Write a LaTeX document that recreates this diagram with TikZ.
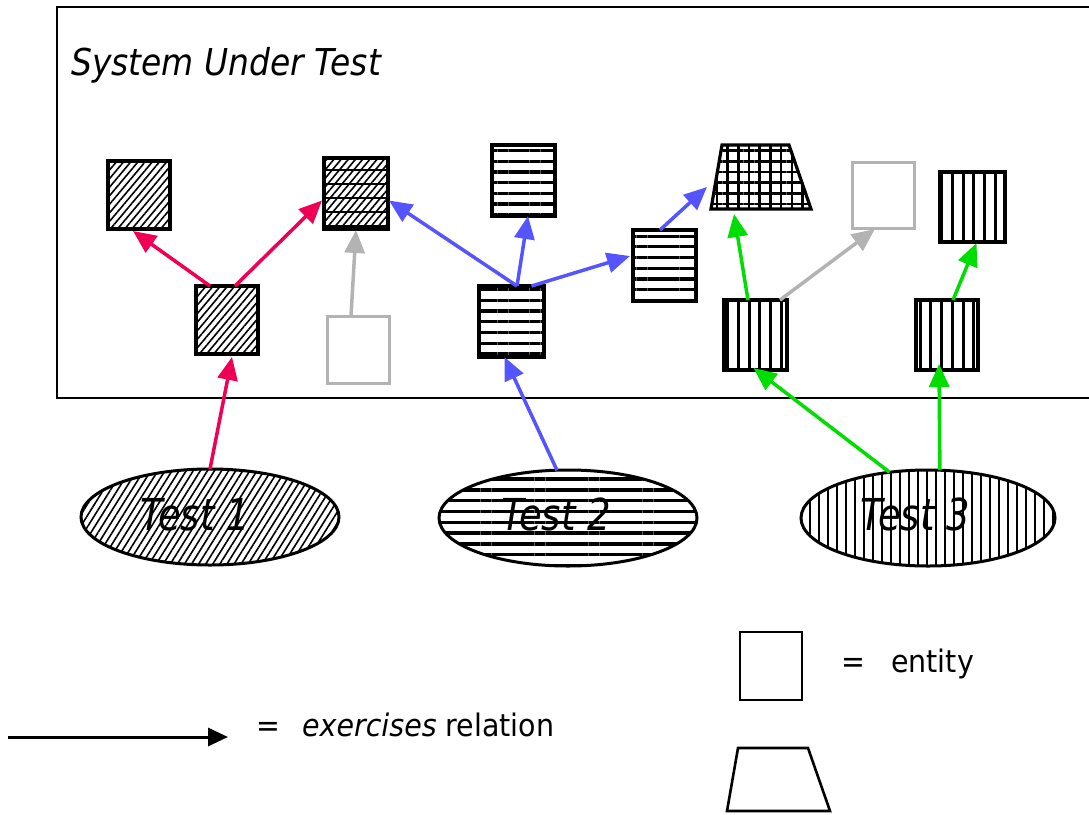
\documentclass[tikz,border=0pt]{standalone}
\usepackage{fontspec}
\setmainfont{DejaVu Sans}
\newfontfamily\stitle[FakeStretch=0.89]{DejaVu Sans}
\newfontfamily\stest[FakeStretch=0.84]{DejaVu Sans}
\newfontfamily\sleg[FakeStretch=0.92]{DejaVu Sans}
\usetikzlibrary{arrows.meta,patterns.meta,shapes.geometric}
\definecolor{redA}{HTML}{F00055}
\definecolor{blueA}{HTML}{5555FF}
\definecolor{greenA}{HTML}{00DD00}
\definecolor{grayA}{HTML}{B3B3B3}
\tikzset{
  ent/.style={draw=black, line width=3.2pt, rectangle, inner sep=0pt, outer sep=0pt},
  gent/.style={draw=grayA, line width=3pt, rectangle, inner sep=0pt, outer sep=0pt},
  trapS/.style={draw=black, line width=3.2pt, line join=miter},
  diagfill/.style={pattern={Lines[angle=50,distance=5.5pt,line width=1.6pt]}},
  horfill/.style={pattern={Lines[angle=0,distance=10.7pt,line width=3.2pt]}},
  verfill/.style={pattern={Lines[angle=90,distance=10.7pt,line width=3pt]}},
  gridfill/.style={pattern={Hatch[angle=0,distance=10.7pt,line width=2.6pt]}},
  test/.style={ellipse, draw=black, line width=3pt, inner sep=0pt, outer sep=0pt,
    minimum width=258pt, minimum height=96pt},
  testlbl/.style={anchor=base west, inner sep=0pt, font=\stest\itshape\fontsize{44}{46}\selectfont},
  arr/.style={line width=3.5pt, -{Triangle[length=23pt,width=20pt]}},
  lgd/.style={anchor=base west, inner sep=0pt, font=\sleg\fontsize{31}{33}\selectfont}
}
\begin{document}
\begin{tikzpicture}[x=1pt,y=-1pt]
\useasboundingbox (0,0) rectangle (1089,814);
% frame
\draw[line width=2.8pt] (1089,7) -- (57,7) -- (57,398) -- (1089,398);
\node[anchor=base west, inner sep=0pt, font=\stitle\itshape\fontsize{37}{40}\selectfont] (sut) at (71,75) {System Under Test};

% entities
\node[ent, diagfill, minimum width=62pt, minimum height=68pt] (e1) at (139,195) {};
\node[ent, diagfill, minimum width=64pt, minimum height=71pt,
  postaction={pattern={Lines[angle=0,distance=14pt,line width=2.6pt]}}] (e2) at (356,193.5) {};
\node[ent, horfill, minimum width=63pt, minimum height=71pt] (e3) at (523.5,180.5) {};
\node[ent, diagfill, minimum width=62pt, minimum height=68pt] (e4) at (227,320) {};
\node[gent, minimum width=62pt, minimum height=67pt] (e5) at (358,349.5) {};
\node[ent, horfill, minimum width=65pt, minimum height=71pt] (e6) at (511.5,321.5) {};
\node[ent, horfill, minimum width=63pt, minimum height=71pt] (e7) at (664.5,265.5) {};
\draw[trapS, gridfill] (711,209) coordinate (tzbl) -- (722,145) coordinate (tztl)
  -- (789,145) coordinate (tztr) -- (811,209) coordinate (tzbr) -- cycle;
\coordinate (tzL) at (707,187);
\coordinate (tzB) at (734,214);
\node[gent, minimum width=62pt, minimum height=66pt] (g2) at (883,195) {};
\node[ent, verfill, minimum width=65pt, minimum height=70pt] (e8) at (972.5,207) {};
\node[ent, verfill, minimum width=63pt, minimum height=70pt] (e9) at (755.5,335) {};
\node[ent, verfill, minimum width=62pt, minimum height=70pt] (e10) at (947,335) {};

% tests
\node[test, pattern={Lines[angle=58,distance=6pt,line width=1.6pt]}] (t1) at (210,517) {};
\node[test, pattern={Lines[angle=0,distance=10.8pt,line width=3.4pt]}] (t2) at (568,518) {};
\node[test, minimum width=254pt, pattern={Lines[angle=90,distance=9pt,line width=2.4pt]}] (t3) at (928,518) {};
\node[testlbl] (tl1) at (140,530) {Test 1};
\node[testlbl] (tl2) at (501,530) {Test 2};
\node[testlbl] (tl3) at (860,530) {Test 3};

% arrows red
\draw[arr, redA] ([xshift=-17pt]e4.north) -- ([xshift=-6pt,yshift=-2pt]e1.south);
\draw[arr, redA] ([xshift=8pt]e4.north) -- ([xshift=-2pt,yshift=-7pt]e2.west);
\draw[arr, redA] (t1.north) -- ([xshift=5pt,yshift=-3pt]e4.south);
% gray
\draw[arr, grayA] ([xshift=-7pt]e5.north) -- ([yshift=-1pt]e2.south);
\draw[arr, grayA] ([xshift=24.5pt]e9.north) -- ([xshift=-8pt,yshift=-1pt]g2.south);
% blue
\draw[arr, blueA] ([xshift=5.5pt]e6.north) -- ([xshift=1pt,yshift=-7pt]e2.east);
\draw[arr, blueA] ([xshift=5.5pt]e6.north) -- ([xshift=4.5pt]e3.south);
\draw[arr, blueA] ([xshift=20pt]e6.north) -- ([xshift=-3pt,yshift=9.5pt]e7.west);
\draw[arr, blueA] ([xshift=-4.5pt]e7.north) -- (tzL);
\draw[arr, blueA] (t2.103) -- ([xshift=-7pt]e6.south);
% green
\draw[arr, greenA] ([xshift=-7.5pt]e9.north) -- (tzB);
\draw[arr, greenA] ([xshift=6pt]e10.north) -- ([xshift=4pt,yshift=-1pt]e8.south);
\draw[arr, greenA] (t3.130) -- ([xshift=-2pt,yshift=2pt]e9.south);
\draw[arr, greenA] (t3.76) -- ([xshift=-8pt,yshift=6pt]e10.south);

% legend
\coordinate (la) at (8,737);
\coordinate (lb) at (228,737);
\draw[line width=3pt, -{Triangle[length=20pt,width=18pt]}] (la) -- (lb);
\node[lgd] (lrel) at (256,736) {=\hspace{22pt}\textit{exercises} relation};
\node[ent, line width=2.6pt, minimum width=62pt, minimum height=68pt] (lbox) at (771,666) {};
\node[lgd] (lent) at (841,672) {=\hspace{26pt}entity};
\draw[trapS, line width=2.6pt] (727,811) coordinate (lzbl) -- (738,748) coordinate (lztl)
  -- (808,748) coordinate (lztr) -- (830,811) coordinate (lzbr) -- cycle;
\end{tikzpicture}
\end{document}
